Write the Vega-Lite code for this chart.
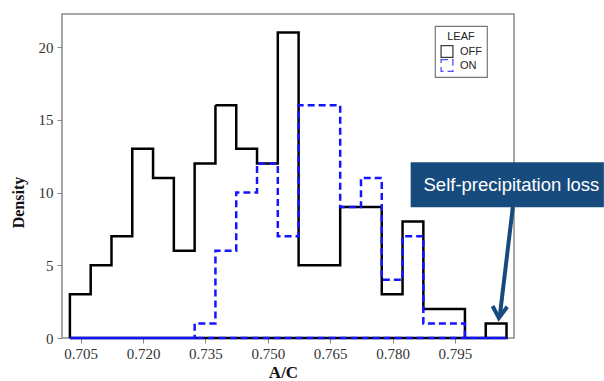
{
  "$schema": "https://vega.github.io/schema/vega-lite/v6.json",
  "width": 452,
  "height": 324,
  "autosize": {"type": "none"},
  "padding": {"left": 62, "top": 14, "right": 90, "bottom": 43},
  "background": "white",
  "config": {
    "view": {"stroke": "#8c8c8c", "strokeWidth": 1.5},
    "legend": {
      "orient": "none",
      "legendX": 373,
      "legendY": 12,
      "strokeColor": "#777777",
      "strokeWidth": 1.2,
      "padding": 5,
      "symbolType": "square",
      "symbolSize": 140,
      "symbolStrokeWidth": 1.3,
      "symbolFillColor": "white",
      "symbolOpacity": 0.75,
      "symbolDash": [4, 3],
      "clipHeight": 13,
      "labelFont": "Liberation Sans",
      "labelFontSize": 11,
      "labelColor": "#222222",
      "labelOffset": 6,
      "rowPadding": 1,
      "titleFont": "Liberation Sans",
      "titleFontSize": 11,
      "titleFontWeight": "normal",
      "titleColor": "#222222",
      "titleAlign": "center",
      "titleAnchor": "middle",
      "titlePadding": 3
    }
  },
  "datasets": {
    "hist": [
      {"i": 0, "x": 0.7024, "OFF": 0, "ON": 0},
      {"i": 1, "x": 0.7024, "OFF": 3, "ON": 0},
      {"i": 2, "x": 0.7074, "OFF": 5, "ON": 0},
      {"i": 3, "x": 0.7124, "OFF": 7, "ON": 0},
      {"i": 4, "x": 0.7174, "OFF": 13, "ON": 0},
      {"i": 5, "x": 0.7224, "OFF": 11, "ON": 0},
      {"i": 6, "x": 0.7274, "OFF": 6, "ON": 0},
      {"i": 7, "x": 0.7324, "OFF": 12, "ON": 1},
      {"i": 8, "x": 0.7374, "OFF": 16, "ON": 6},
      {"i": 9, "x": 0.7424, "OFF": 13, "ON": 10},
      {"i": 10, "x": 0.7474, "OFF": 12, "ON": 12},
      {"i": 11, "x": 0.7524, "OFF": 21, "ON": 7},
      {"i": 12, "x": 0.7574, "OFF": 5, "ON": 16},
      {"i": 13, "x": 0.7624, "OFF": 5, "ON": 16},
      {"i": 14, "x": 0.7674, "OFF": 9, "ON": 9},
      {"i": 15, "x": 0.7724, "OFF": 9, "ON": 11},
      {"i": 16, "x": 0.7774, "OFF": 3, "ON": 4},
      {"i": 17, "x": 0.7824, "OFF": 8, "ON": 7},
      {"i": 18, "x": 0.7874, "OFF": 2, "ON": 1},
      {"i": 19, "x": 0.7924, "OFF": 2, "ON": 1},
      {"i": 20, "x": 0.7974, "OFF": 0, "ON": 0},
      {"i": 21, "x": 0.8024, "OFF": 1, "ON": 0},
      {"i": 22, "x": 0.8074, "OFF": 0, "ON": 0},
      {"i": 23, "x": 0.7024, "OFF": 0, "ON": 0}
    ],
    "callout": [
      {"x": 0.78435, "x2": 0.83082, "y": 8.98, "y2": 12.08, "xt": 0.80858, "yt": 10.5, "label": "Self-precipitation loss"}
    ],
    "arrow": [
      {"part": "shaft", "k": 0, "x": 0.80892, "y": 9.0},
      {"part": "shaft", "k": 1, "x": 0.80582, "y": 1.6},
      {"part": "head", "k": 0, "x": 0.80406, "y": 2.2},
      {"part": "head", "k": 1, "x": 0.80556, "y": 1.37},
      {"part": "head", "k": 2, "x": 0.80757, "y": 2.15}
    ]
  },
  "layer": [
    {
      "data": {"name": "hist"},
      "transform": [{"fold": ["OFF", "ON"], "as": ["LEAF", "density"]}],
      "mark": {"type": "line", "interpolate": "step-after", "strokeWidth": 2.5, "strokeJoin": "miter"},
      "encoding": {
        "x": {
          "field": "x",
          "type": "quantitative",
          "scale": {"domain": [0.7005, 0.8092], "nice": false, "zero": false},
          "axis": {
            "values": [0.705, 0.72, 0.735, 0.75, 0.765, 0.78, 0.795],
            "format": ".3f",
            "domain": false,
            "grid": false,
            "tickColor": "#888888",
            "tickSize": 5,
            "labelPadding": 3,
            "labelFont": "Liberation Serif",
            "labelFontSize": 15,
            "labelColor": "#333333",
            "title": "A/C",
            "titleFont": "Liberation Serif",
            "titleFontSize": 17,
            "titleFontWeight": "bold",
            "titleColor": "#111111",
            "titleX": 221,
            "titleY": 39.5,
            "titleBaseline": "alphabetic"
          }
        },
        "y": {
          "field": "density",
          "type": "quantitative",
          "scale": {"domain": [0, 22.27], "nice": false},
          "axis": {
            "values": [0, 5, 10, 15, 20],
            "domain": false,
            "grid": false,
            "tickColor": "#888888",
            "tickSize": 5,
            "labelPadding": 4,
            "labelFont": "Liberation Serif",
            "labelFontSize": 15,
            "labelColor": "#333333",
            "title": "Density",
            "titleFont": "Liberation Serif",
            "titleFontSize": 16,
            "titleFontWeight": "bold",
            "titleColor": "#111111",
            "titleAngle": -90,
            "titleX": -38.7,
            "titleY": 188,
            "titleBaseline": "alphabetic",
            "titleAlign": "center"
          }
        },
        "color": {
          "field": "LEAF",
          "type": "nominal",
          "scale": {"domain": ["OFF", "ON"], "range": ["#000000", "#1414ff"]},
          "legend": {"title": "LEAF", "labelExpr": "datum.label + '\u2003\u2003\u2003'"}
        },
        "strokeDash": {
          "field": "LEAF",
          "type": "nominal",
          "scale": {"domain": ["OFF", "ON"], "range": [[1, 0], [7, 4]]},
          "legend": {"title": "LEAF", "labelExpr": "datum.label + '\u2003\u2003\u2003'"}
        },
        "order": {"field": "i", "type": "quantitative"}
      }
    },
    {
      "data": {"name": "callout"},
      "mark": {"type": "rect", "color": "#174b7d", "clip": false},
      "encoding": {
        "x": {"field": "x", "type": "quantitative"},
        "x2": {"field": "x2"},
        "y": {"field": "y", "type": "quantitative"},
        "y2": {"field": "y2"}
      }
    },
    {
      "data": {"name": "callout"},
      "mark": {"type": "text", "color": "white", "font": "Liberation Sans", "fontSize": 18.5, "align": "center", "baseline": "middle", "clip": false},
      "encoding": {
        "x": {"field": "xt", "type": "quantitative"},
        "y": {"field": "yt", "type": "quantitative"},
        "text": {"field": "label"}
      }
    },
    {
      "data": {"name": "arrow"},
      "mark": {"type": "line", "color": "#174b7d", "strokeWidth": 4, "strokeJoin": "miter", "strokeCap": "butt", "clip": false},
      "encoding": {
        "x": {"field": "x", "type": "quantitative"},
        "y": {"field": "y", "type": "quantitative"},
        "detail": {"field": "part"},
        "order": {"field": "k", "type": "quantitative"}
      }
    }
  ]
}
